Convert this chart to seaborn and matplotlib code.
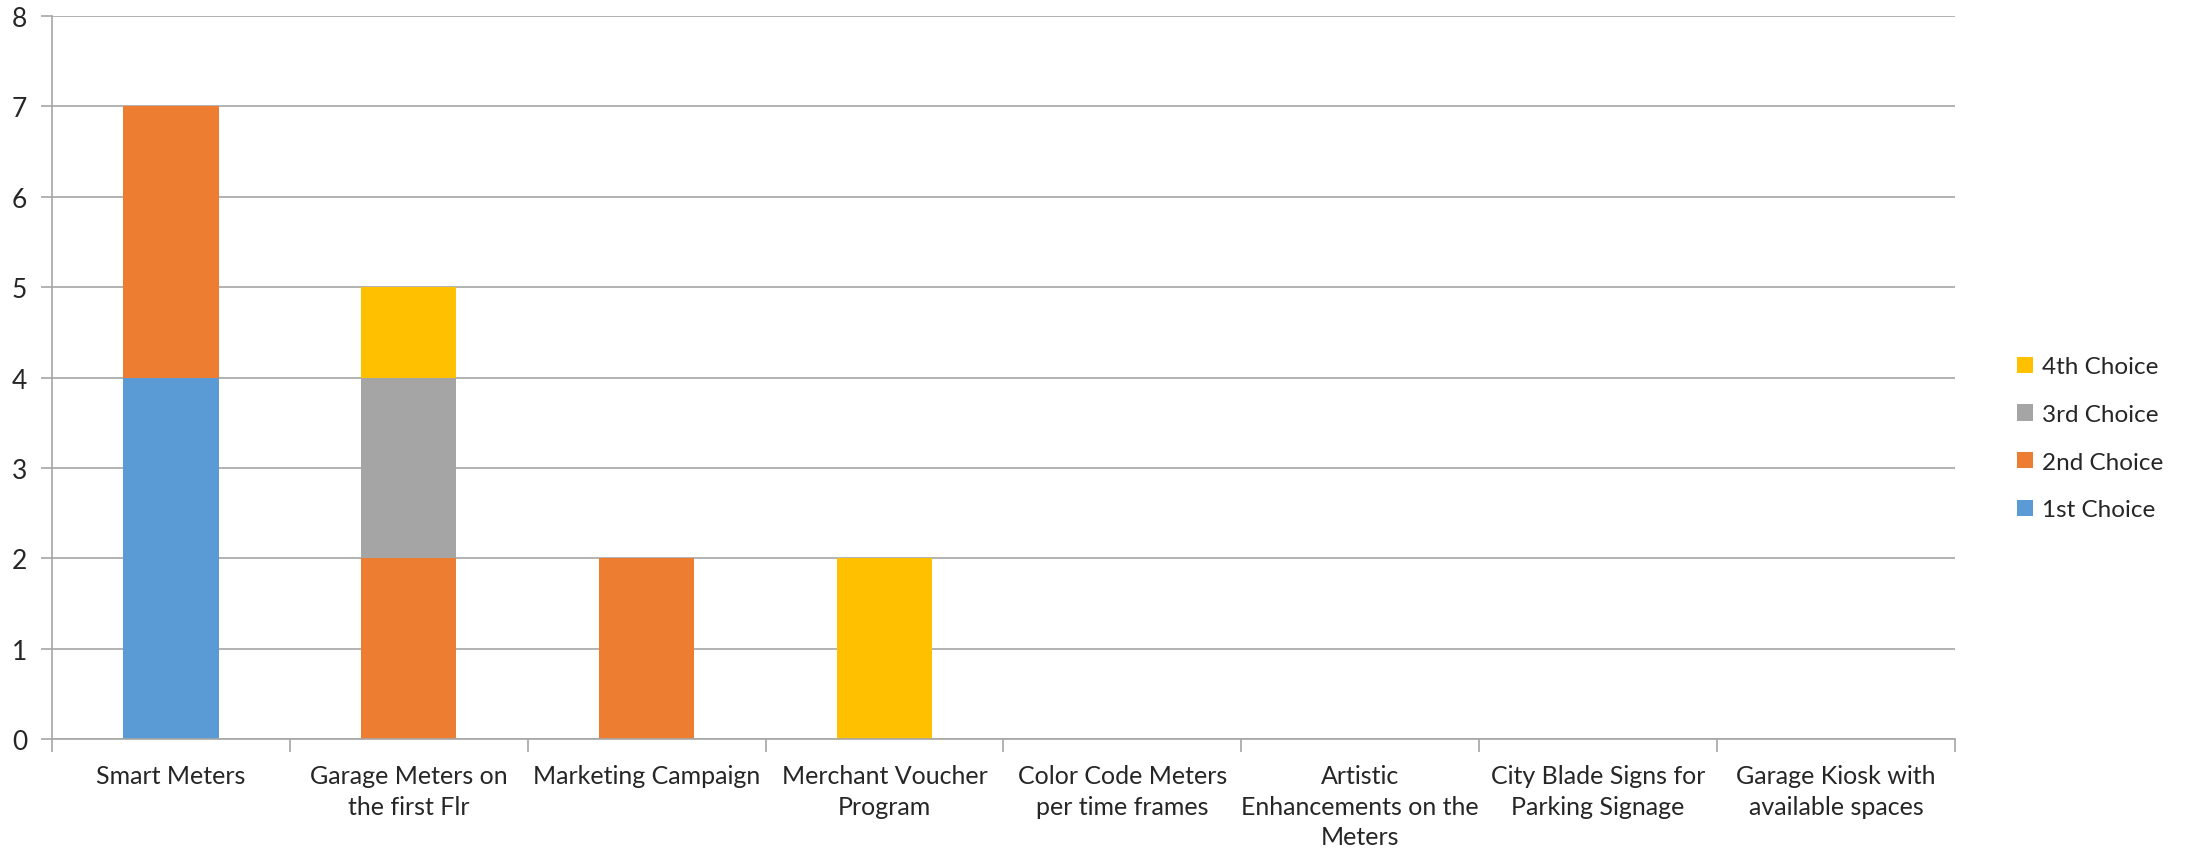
import numpy as np
import seaborn as sns
import matplotlib.pyplot as plt

categories = ["Smart Meters", "Garage Meters on\nthe first Flr", "Marketing Campaign",
              "Merchant Voucher\nProgram", "Color Code Meters\nper time frames",
              "Artistic\nEnhancements on the\nMeters", "City Blade Signs for\nParking Signage",
              "Garage Kiosk with\navailable spaces"]
series_names = ["1st Choice", "2nd Choice", "3rd Choice", "4th Choice"]
first_choice = [4, 0, 0, 0, 0, 0, 0, 0]
second_choice = [3, 2, 2, 0, 0, 0, 0, 0]
third_choice = [0, 2, 0, 0, 0, 0, 0, 0]
fourth_choice = [0, 1, 0, 2, 0, 0, 0, 0]
colors = ["#5B9BD5", "#ED7D31", "#A5A5A5", "#FFC000"]

sns.set_style("white")
plt.rcParams['font.family'] = ['Lato', 'DejaVu Sans']

fig = plt.figure(figsize=(21.85, 8.53), dpi=100)
ax = fig.add_axes([0.0238, 0.1325, 0.8709, 0.8475])

bottom = np.zeros(len(categories))
for name, vals, col in zip(series_names, [first_choice, second_choice, third_choice, fourth_choice], colors):
    sns.barplot(x=categories, y=vals, bottom=bottom, color=col, width=0.4, saturation=1,
                linewidth=0, label=name, ax=ax)
    bottom = bottom + np.array(vals)

if ax.get_legend() is not None:
    ax.get_legend().remove()

ax.set_ylim(0, 8)
ax.set_xlim(-0.5, len(categories) - 0.5)
ax.set_yticks(range(0, 9))
ax.yaxis.grid(True, color="#A6A6A6", linewidth=1.2)
ax.set_axisbelow(True)
for s in ["top", "right"]:
    ax.spines[s].set_visible(False)
ax.spines["left"].set_color("#A6A6A6")
ax.spines["bottom"].set_color("#A6A6A6")
ax.spines["left"].set_linewidth(1.2)
ax.spines["bottom"].set_linewidth(1.2)

# category boundary ticks
ax.set_xticks(np.arange(-0.5, len(categories)), minor=True)
ax.tick_params(axis="x", which="minor", length=9, color="#A6A6A6", width=1.2, bottom=True)
ax.tick_params(axis="x", which="major", length=0, pad=18, labelsize=18)
ax.tick_params(axis="y", length=8, color="#A6A6A6", width=1.2, left=True, pad=10, labelsize=19)
plt.setp(ax.get_xticklabels(), linespacing=1.4)

handles, labels = ax.get_legend_handles_labels()
leg = fig.legend(handles[::-1], labels[::-1], loc="center left",
                 bbox_to_anchor=(0.913, 0.485), frameon=False, fontsize=17.5,
                 handlelength=0.65, handleheight=0.65, handletextpad=0.4, labelspacing=1.1)

fig.savefig("out.png", dpi=100)
